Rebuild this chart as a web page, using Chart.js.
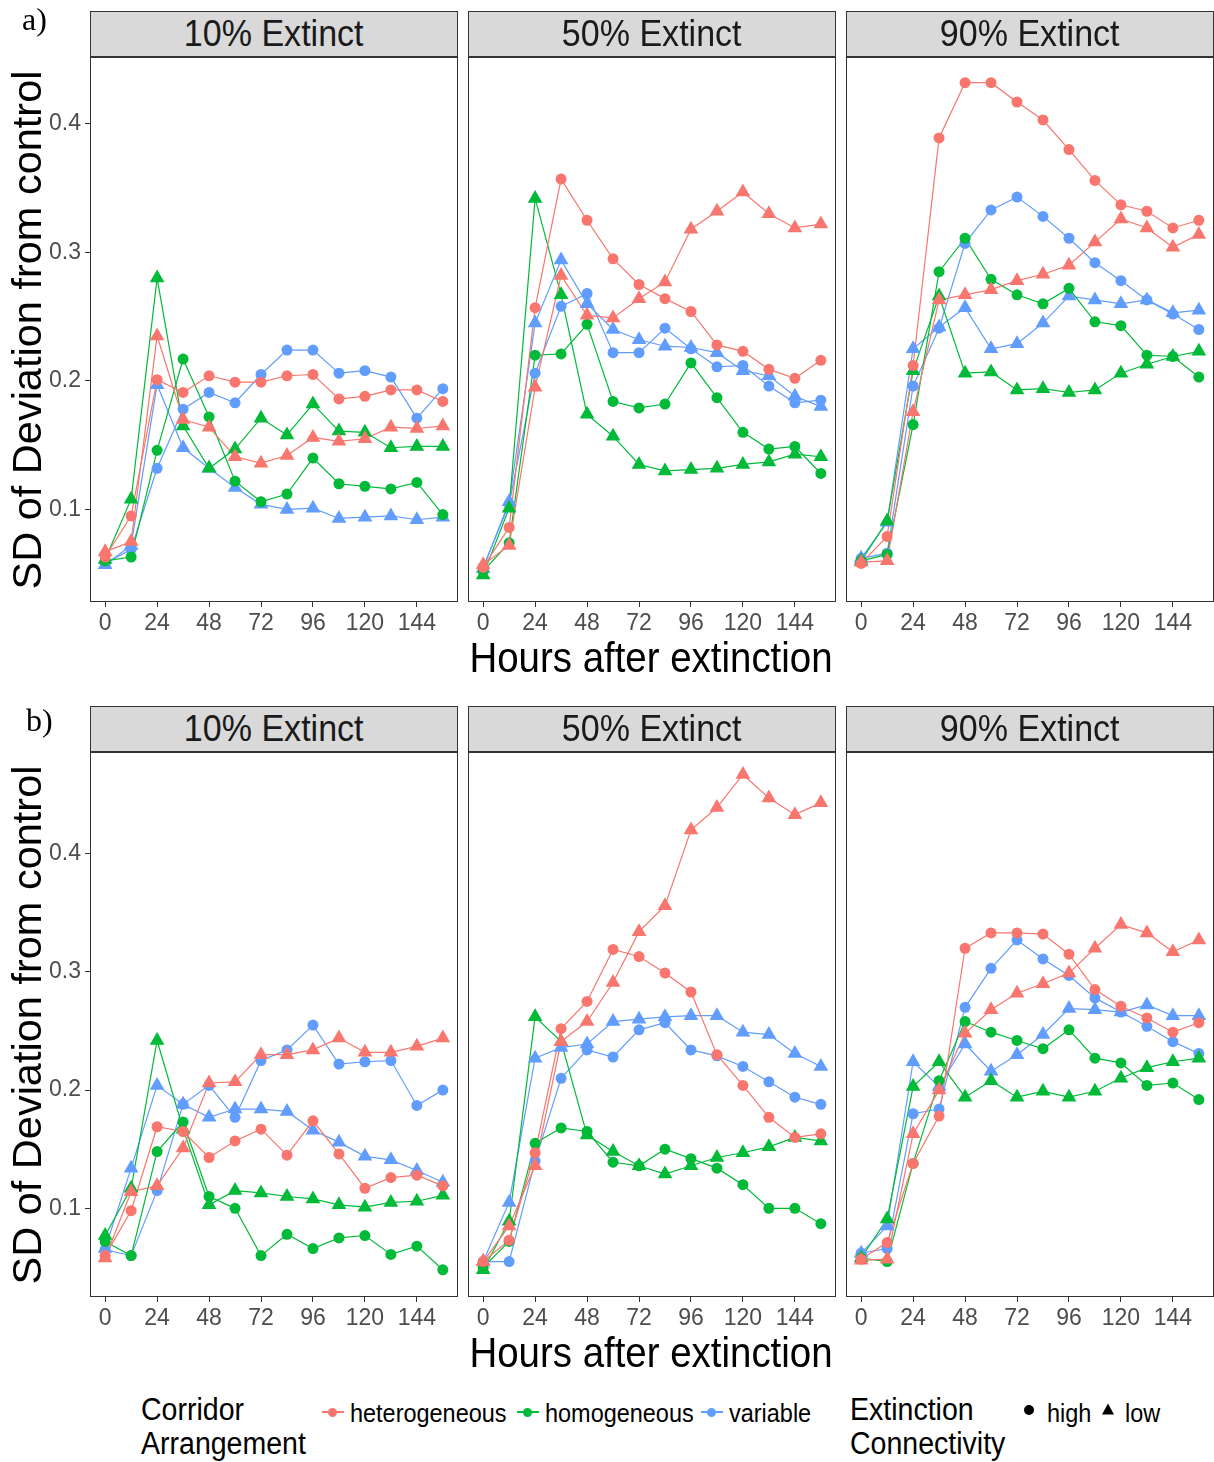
<!DOCTYPE html>
<html>
<head>
<meta charset="utf-8">
<title>SD of Deviation from control</title>
<script src="https://cdn.jsdelivr.net/npm/chart.js@4.4.1/dist/chart.umd.min.js"></script>
<style>
  html, body { margin: 0; padding: 0; background: #fff; overflow: hidden; }
  body { width: 1214px; height: 1462px; position: relative; font-family: "Liberation Sans", Arial, sans-serif; color: #000; }
  canvas { position: absolute; }
  .strip { position: absolute; box-sizing: border-box; width: 368px; height: 46px; background: #d9d9d9;
           border: 1px solid #333; text-align: center; font-size: 37px; line-height: 44px; color: #1a1a1a; }
  .strip span { display: inline-block; transform: scaleX(0.92); }
  .ytitle { position: absolute; font-size: 41.5px; white-space: nowrap; transform: translate(-50%, -50%) rotate(-90deg); }
  .xtitle { position: absolute; font-size: 42px; white-space: nowrap; transform: translate(-50%, -50%) scaleX(0.915); }
  .tag { position: absolute; font-family: "Liberation Serif", "DejaVu Serif", serif; font-size: 32px; line-height: 32px; }
  .lt { position: absolute; white-space: nowrap; transform: translateY(-50%) scaleX(0.92); transform-origin: left center; }
  .ltitle { font-size: 31px; }
  .llabel { font-size: 25.5px; }
  .key { position: absolute; width: 22px; height: 12px; transform: translate(-50%, -50%); }
  .key .ln { position: absolute; left: 0; right: 0; top: 5px; height: 1.5px; }
  .key .dt { position: absolute; left: 6px; top: 1.5px; width: 9px; height: 9px; border-radius: 50%; }
  .shape { position: absolute; transform: translate(-50%, -50%); }
</style>
</head>
<body>
<script>
// x positions (hours after extinction) and tick labels
const hours = [0, 12, 24, 36, 48, 60, 72, 84, 96, 108, 120, 132, 144, 156];
const xTicks = [0, 24, 48, 72, 96, 120, 144];
const yTicks = [0.1, 0.2, 0.3, 0.4];
const stripLabels = ['10% Extinct', '50% Extinct', '90% Extinct'];
const arrangements = ['heterogeneous', 'homogeneous', 'variable'];
const connectivity = ['high', 'low'];

// a) 10% extinct
const a10HetHigh = [0.063, 0.095, 0.201, 0.191, 0.204, 0.199, 0.199, 0.204, 0.205, 0.186, 0.188, 0.193, 0.193, 0.184];
const a10HetLow  = [0.067, 0.075, 0.235, 0.170, 0.164, 0.141, 0.136, 0.142, 0.156, 0.153, 0.155, 0.164, 0.163, 0.165];
const a10HomHigh = [0.060, 0.063, 0.146, 0.217, 0.172, 0.122, 0.106, 0.112, 0.140, 0.120, 0.118, 0.116, 0.121, 0.096];
const a10HomLow  = [0.061, 0.108, 0.280, 0.165, 0.132, 0.147, 0.171, 0.158, 0.182, 0.161, 0.160, 0.148, 0.149, 0.149];
const a10VarHigh = [0.058, 0.069, 0.132, 0.178, 0.191, 0.183, 0.205, 0.224, 0.224, 0.206, 0.208, 0.203, 0.171, 0.194];
const a10VarLow  = [0.057, 0.072, 0.197, 0.148, 0.132, 0.117, 0.104, 0.100, 0.101, 0.093, 0.094, 0.095, 0.092, 0.094];

// a) 50% extinct
const a50HetHigh = [0.055, 0.086, 0.257, 0.357, 0.325, 0.295, 0.275, 0.264, 0.254, 0.228, 0.223, 0.209, 0.202, 0.216];
const a50HetLow  = [0.057, 0.072, 0.195, 0.282, 0.251, 0.249, 0.264, 0.277, 0.318, 0.332, 0.347, 0.330, 0.319, 0.322];
const a50HomHigh = [0.052, 0.074, 0.220, 0.221, 0.244, 0.184, 0.179, 0.182, 0.214, 0.187, 0.160, 0.147, 0.149, 0.128];
const a50HomLow  = [0.049, 0.101, 0.342, 0.267, 0.174, 0.157, 0.135, 0.130, 0.131, 0.132, 0.135, 0.137, 0.143, 0.141];
const a50VarHigh = [0.055, 0.104, 0.206, 0.258, 0.268, 0.222, 0.222, 0.241, 0.225, 0.211, 0.212, 0.196, 0.183, 0.185];
const a50VarLow  = [0.054, 0.106, 0.245, 0.294, 0.260, 0.240, 0.232, 0.227, 0.226, 0.222, 0.208, 0.204, 0.188, 0.180];

// a) 90% extinct
const a90HetHigh = [0.058, 0.079, 0.212, 0.389, 0.432, 0.432, 0.417, 0.403, 0.380, 0.356, 0.337, 0.332, 0.319, 0.325];
const a90HetLow  = [0.059, 0.060, 0.176, 0.263, 0.267, 0.271, 0.278, 0.283, 0.290, 0.308, 0.326, 0.319, 0.304, 0.314];
const a90HomHigh = [0.060, 0.065, 0.166, 0.285, 0.311, 0.279, 0.267, 0.260, 0.272, 0.246, 0.243, 0.220, 0.219, 0.203];
const a90HomLow  = [0.060, 0.091, 0.208, 0.266, 0.206, 0.207, 0.193, 0.194, 0.191, 0.193, 0.206, 0.213, 0.219, 0.223];
const a90VarHigh = [0.062, 0.066, 0.196, 0.241, 0.307, 0.333, 0.343, 0.328, 0.311, 0.292, 0.278, 0.263, 0.252, 0.240];
const a90VarLow  = [0.062, 0.090, 0.225, 0.242, 0.257, 0.225, 0.229, 0.245, 0.266, 0.263, 0.260, 0.263, 0.253, 0.255];

// b) 10% extinct
const b10HetHigh = [0.060, 0.098, 0.169, 0.165, 0.143, 0.157, 0.167, 0.145, 0.174, 0.146, 0.117, 0.126, 0.128, 0.119];
const b10HetLow  = [0.058, 0.114, 0.119, 0.151, 0.206, 0.207, 0.230, 0.230, 0.234, 0.244, 0.232, 0.232, 0.237, 0.244];
const b10HomHigh = [0.072, 0.060, 0.148, 0.173, 0.110, 0.100, 0.060, 0.078, 0.066, 0.075, 0.077, 0.061, 0.068, 0.048];
const b10HomLow  = [0.077, 0.117, 0.242, 0.167, 0.103, 0.115, 0.113, 0.110, 0.108, 0.103, 0.101, 0.105, 0.106, 0.111];
const b10VarHigh = [0.065, 0.060, 0.115, 0.188, 0.204, 0.177, 0.225, 0.234, 0.255, 0.222, 0.224, 0.225, 0.187, 0.200];
const b10VarLow  = [0.066, 0.134, 0.204, 0.188, 0.177, 0.184, 0.184, 0.182, 0.166, 0.156, 0.144, 0.141, 0.132, 0.122];

// b) 50% extinct
const b50HetHigh = [0.055, 0.073, 0.147, 0.252, 0.275, 0.319, 0.313, 0.299, 0.283, 0.230, 0.204, 0.177, 0.160, 0.163];
const b50HetLow  = [0.055, 0.085, 0.136, 0.241, 0.258, 0.291, 0.334, 0.356, 0.420, 0.439, 0.467, 0.447, 0.433, 0.443];
const b50HomHigh = [0.050, 0.072, 0.155, 0.168, 0.165, 0.139, 0.136, 0.150, 0.142, 0.134, 0.120, 0.100, 0.100, 0.087];
const b50HomLow  = [0.048, 0.089, 0.262, 0.241, 0.162, 0.148, 0.136, 0.129, 0.136, 0.143, 0.147, 0.152, 0.160, 0.157];
const b50VarHigh = [0.055, 0.055, 0.140, 0.210, 0.234, 0.228, 0.251, 0.257, 0.234, 0.229, 0.220, 0.207, 0.194, 0.188];
const b50VarLow  = [0.055, 0.105, 0.227, 0.236, 0.239, 0.258, 0.260, 0.262, 0.263, 0.263, 0.249, 0.247, 0.231, 0.220];

// b) 90% extinct
const b90HetHigh = [0.057, 0.071, 0.138, 0.178, 0.320, 0.333, 0.333, 0.332, 0.315, 0.285, 0.271, 0.261, 0.249, 0.257];
const b90HetLow  = [0.056, 0.057, 0.163, 0.200, 0.248, 0.268, 0.282, 0.290, 0.299, 0.320, 0.340, 0.333, 0.317, 0.327];
const b90HomHigh = [0.058, 0.055, 0.138, 0.208, 0.258, 0.249, 0.242, 0.235, 0.251, 0.227, 0.223, 0.204, 0.206, 0.192];
const b90HomLow  = [0.058, 0.091, 0.203, 0.224, 0.194, 0.208, 0.194, 0.199, 0.194, 0.199, 0.210, 0.219, 0.224, 0.227];
const b90VarHigh = [0.062, 0.066, 0.180, 0.184, 0.270, 0.303, 0.327, 0.311, 0.297, 0.278, 0.266, 0.254, 0.241, 0.231];
const b90VarLow  = [0.062, 0.085, 0.224, 0.203, 0.239, 0.216, 0.230, 0.247, 0.269, 0.268, 0.266, 0.272, 0.263, 0.263];

// Styling and layout
const arrangementColors = ['#F8766D', '#00BA38', '#619CFF'];
const fontFamily = '"Liberation Sans", Arial, sans-serif';
const panelLeft = [90, 468, 846];
const panelTop = [57, 752];
const panelW = 368;
const panelH = 545;
const xRange = [-7, 163];
const yRanges = [[0.028, 0.452], [0.025, 0.486]];

const panels = [
    { row: 0, col: 0, series: [a10HetHigh, a10HetLow, a10HomHigh, a10HomLow, a10VarHigh, a10VarLow] },
    { row: 0, col: 1, series: [a50HetHigh, a50HetLow, a50HomHigh, a50HomLow, a50VarHigh, a50VarLow] },
    { row: 0, col: 2, series: [a90HetHigh, a90HetLow, a90HomHigh, a90HomLow, a90VarHigh, a90VarLow] },
    { row: 1, col: 0, series: [b10HetHigh, b10HetLow, b10HomHigh, b10HomLow, b10VarHigh, b10VarLow] },
    { row: 1, col: 1, series: [b50HetHigh, b50HetLow, b50HomHigh, b50HomLow, b50VarHigh, b50VarLow] },
    { row: 1, col: 2, series: [b90HetHigh, b90HetLow, b90HomHigh, b90HomLow, b90VarHigh, b90VarLow] }
];

Chart.defaults.font.family = fontFamily;

/**
 * Panel border drawn on top of everything (like ggplot panel.border)
 */
const panelFrame = {
    id: 'panelFrame',
    afterDraw(chart) {
        const { ctx, chartArea: a } = chart;
        ctx.save();
        ctx.strokeStyle = '#333';
        ctx.lineWidth = 1;
        ctx.strokeRect(a.left + 0.5, a.top + 0.5, a.right - a.left - 1, a.bottom - a.top - 1);
        ctx.restore();
    }
};

/**
 * Lines go under all points, so each series is split in a line and a point dataset
 */
function buildDatasets(series) {
    const lines = [];
    const points = [];
    arrangements.forEach((arr, i) => {
        connectivity.forEach((con, j) => {
            const vals = series[i * 2 + j];
            const data = hours.map((h, k) => ({ x: h, y: vals[k] }));
            const color = arrangementColors[i];
            lines.push({
                label: arr + ' ' + con,
                data: data,
                borderColor: color,
                borderWidth: 1.2,
                pointRadius: 0,
                tension: 0,
                fill: false,
                order: 2
            });
            points.push({
                label: arr + ' ' + con,
                data: data,
                showLine: false,
                pointStyle: con === 'high' ? 'circle' : 'triangle',
                pointRadius: con === 'high' ? 5.5 : 8.5,
                pointBackgroundColor: color,
                pointBorderColor: color,
                pointBorderWidth: 0,
                order: 1
            });
        });
    });
    return lines.concat(points);
}

function makePanel(p) {
    const canvas = document.createElement('canvas');
    canvas.width = 60 + panelW;
    canvas.height = 20 + panelH + 50;
    canvas.style.left = (panelLeft[p.col] - 60) + 'px';
    canvas.style.top = (panelTop[p.row] - 20) + 'px';
    document.body.appendChild(canvas);

    const yr = yRanges[p.row];
    new Chart(canvas.getContext('2d'), {
        type: 'line',
        data: { datasets: buildDatasets(p.series) },
        options: {
            responsive: false,
            animation: false,
            devicePixelRatio: 1,
            // the y axis always reserves 60px (hidden on inner panels)
            layout: { autoPadding: false, padding: { left: 0, right: 0, top: 20, bottom: 0 } },
            plugins: { legend: { display: false }, tooltip: { enabled: false } },
            scales: {
                x: {
                    type: 'linear',
                    min: xRange[0],
                    max: xRange[1],
                    afterBuildTicks: s => { s.ticks = xTicks.map(v => ({ value: v })); },
                    afterFit: s => { s.height = 50; s.paddingLeft = 0; s.paddingRight = 0; },
                    ticks: { autoSkip: false, maxRotation: 0, padding: 3, color: '#4d4d4d', font: { size: 23 } },
                    grid: { drawOnChartArea: false, drawTicks: true, tickLength: 5, color: '#333' },
                    border: { display: false }
                },
                y: {
                    type: 'linear',
                    display: p.col === 0,
                    min: yr[0],
                    max: yr[1],
                    afterBuildTicks: s => { s.ticks = yTicks.map(v => ({ value: v })); },
                    afterFit: s => { s.width = 60; },
                    ticks: { padding: 4, color: '#4d4d4d', font: { size: 23 }, callback: v => v.toFixed(1) },
                    grid: { drawOnChartArea: false, drawTicks: true, tickLength: 5, color: '#333' },
                    border: { display: false }
                }
            }
        },
        plugins: [panelFrame]
    });
}

panels.forEach(makePanel);

/**
 * Strips, axis titles, tags and legend as html text
 */
function addEl(cls, html, style) {
    const el = document.createElement('div');
    el.className = cls;
    el.innerHTML = html;
    Object.assign(el.style, style);
    document.body.appendChild(el);
    return el;
}

[0, 1].forEach(row => {
    panelLeft.forEach((left, col) => {
        addEl('strip', '<span>' + stripLabels[col] + '</span>', { left: left + 'px', top: (panelTop[row] - 46) + 'px' });
    });
    addEl('ytitle', 'SD of Deviation from control', { left: '27px', top: (panelTop[row] + 273) + 'px' });
    addEl('xtitle', 'Hours after extinction', { left: '651px', top: (panelTop[row] + 601) + 'px' });
});
addEl('tag', 'a)', { left: '22px', top: '3px' });
addEl('tag', 'b)', { left: '26px', top: '704px' });

// legend: corridor arrangement
addEl('lt ltitle', 'Corridor', { left: '141px', top: '1410px' });
addEl('lt ltitle', 'Arrangement', { left: '141px', top: '1444px' });
const keyX = [333, 528, 712];
arrangements.forEach((arr, i) => {
    const c = arrangementColors[i];
    addEl('key', '<div class="ln" style="background:' + c + '"></div><div class="dt" style="background:' + c + '"></div>',
        { left: keyX[i] + 'px', top: '1412px' });
    addEl('lt llabel', arr, { left: (keyX[i] + 17) + 'px', top: '1413px' });
});

// legend: extinction connectivity
addEl('lt ltitle', 'Extinction', { left: '850px', top: '1410px' });
addEl('lt ltitle', 'Connectivity', { left: '850px', top: '1444px' });
addEl('shape', '<div style="width:10px;height:10px;border-radius:50%;background:#000"></div>', { left: '1029px', top: '1410px' });
addEl('lt llabel', connectivity[0], { left: '1047px', top: '1413px' });
addEl('shape', '<div style="width:0;height:0;border-left:6.5px solid transparent;border-right:6.5px solid transparent;border-bottom:11px solid #000"></div>', { left: '1108px', top: '1409px' });
addEl('lt llabel', connectivity[1], { left: '1125px', top: '1413px' });
</script>
</body>
</html>
